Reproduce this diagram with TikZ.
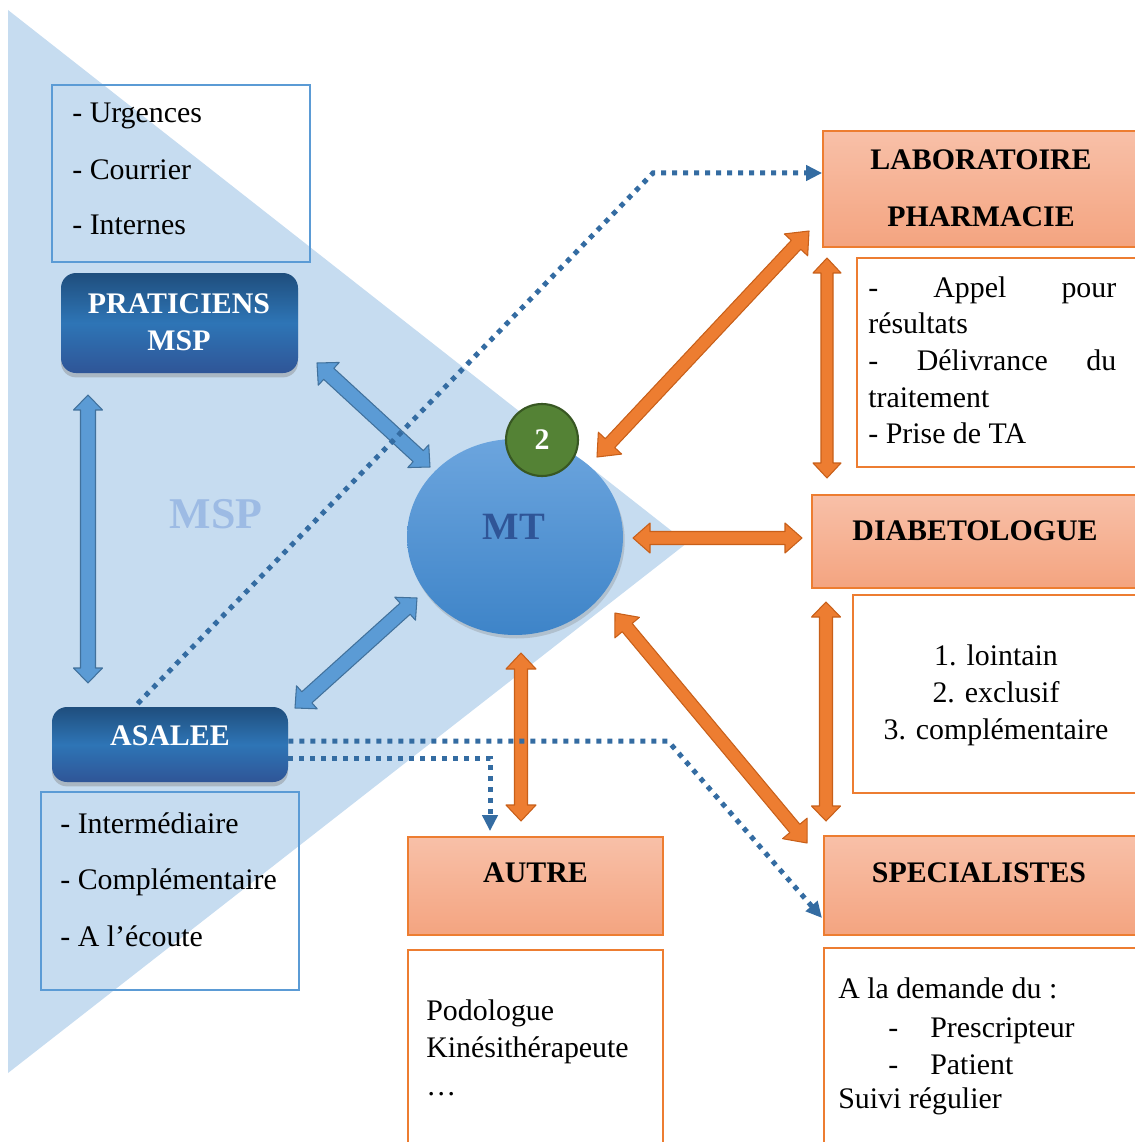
\documentclass[tikz,border=0pt]{standalone}
\usepackage{fontspec}
\setmainfont{Liberation Serif}
\usetikzlibrary{calc,fit,shapes.geometric,shadows,arrows.meta}

\definecolor{tri}{RGB}{198,220,240}
\definecolor{msptxt}{RGB}{157,187,228}
\definecolor{bborder}{RGB}{91,155,213}
\definecolor{oborder}{RGB}{237,125,49}
\definecolor{ofill}{RGB}{237,125,49}
\definecolor{oline}{RGB}{200,95,25}
\definecolor{bfill}{RGB}{91,155,213}
\definecolor{bline}{RGB}{65,113,156}
\definecolor{otop}{RGB}{248,192,168}
\definecolor{obot}{RGB}{244,164,128}
\definecolor{dtop}{RGB}{31,78,125}
\definecolor{dmid}{RGB}{46,117,182}
\definecolor{dbot}{RGB}{47,85,151}
\definecolor{mttop}{RGB}{108,165,222}
\definecolor{mtbot}{RGB}{62,132,200}
\definecolor{mttxt}{RGB}{47,85,151}
\definecolor{gfill}{RGB}{84,130,53}
\definecolor{gline}{RGB}{56,87,35}
\definecolor{dotc}{RGB}{52,108,162}

\newcommand\myfs{\fontsize{17}{20}\selectfont}

% double block arrow: style, from, to, head length, head half width, shaft half width
\newcommand\dblarr[6]{%
  \coordinate (tmpa) at ($(#2)!#4!(#3)$);
  \coordinate (tmpb) at ($(#3)!#4!(#2)$);
  \draw[#1] (#2) -- ($(tmpa)!#5!90:(#3)$) -- ($(tmpa)!#6!90:(#3)$)
    -- ($(tmpb)!#6!-90:(#2)$) -- ($(tmpb)!#5!-90:(#2)$) -- (#3)
    -- ($(tmpb)!#5!90:(#2)$) -- ($(tmpb)!#6!90:(#2)$)
    -- ($(tmpa)!#6!-90:(#3)$) -- ($(tmpa)!#5!-90:(#3)$) -- cycle;}

\tikzset{
  tbox/.style={draw=bborder, line width=1pt, inner sep=0},
  obox/.style={draw=oborder, line width=1pt, inner sep=0, top color=otop, bottom color=obot},
  wbox/.style={draw=oborder, line width=1pt, inner sep=0, fill=white},
  rbox/.style={rounded corners=0.3cm, inner sep=0, top color=dtop, bottom color=dbot, middle color=dmid,
     drop shadow={shadow xshift=0pt, shadow yshift=-2.5pt, opacity=0.4}},
  txt/.style={inner sep=0, anchor=base west, font=\myfs},
  ctr/.style={inner sep=0, anchor=base, font=\myfs},
  ttl/.style={inner sep=0, anchor=base, font=\myfs\bfseries},
  wtl/.style={ttl, text=white},
  oarr/.style={fill=ofill, draw=oline, line width=0.6pt, line join=round},
  barr/.style={fill=bfill, draw=bline, line width=0.6pt, line join=round},
  dotline/.style={draw=dotc, line width=0.1cm, dash pattern=on 0.1cm off 0.12cm,
     -{Triangle[length=0.32cm,width=0.3cm]}}
}

\begin{document}
\begin{tikzpicture}[x=0.02cm, y=-0.02cm]
\useasboundingbox (0,0) rectangle (1135,1142);
\clip (0,0) rectangle (1135,1142);

% background triangle
\fill[tri] (8,10) -- (687,543) -- (8,1073) -- cycle;
\node[font=\fontsize{25}{30}\selectfont\bfseries, text=msptxt, inner sep=0] (msp) at (216,514) {MSP};

% left column
\node[tbox, fit={(52,85)(310,262)}] (urg) {};
\node[txt] (u1) at (72,123) {- Urgences};
\node[txt] (u2) at (72,180) {- Courrier};
\node[txt] (u3) at (72,235) {- Internes};

\node[rbox, fit={(61,273)(298,373)}] (prat) {};
\node[wtl] (prat1) at (179,313) {PRATICIENS};
\node[wtl] (prat2) at (179,350) {MSP};

\node[rbox, fit={(52,707)(288,782)}] (asalee) {};
\node[wtl] (asaleet) at (170,745) {ASALEE};

\node[tbox, fit={(41,792)(299,990)}] (asbox) {};
\node[txt] (a1) at (60,833) {- Intermédiaire};
\node[txt] (a2) at (60,889) {- Complémentaire};
\node[txt] (a3) at (60,946) {- A l’écoute};

% MT
\node[ellipse, minimum width=4.32cm, minimum height=3.92cm, inner sep=0, top color=mttop, bottom color=mtbot,
  drop shadow={shadow xshift=1pt, shadow yshift=-2pt, opacity=0.3}] (mt) at (515,537) {};
\node[font=\fontsize{22}{26}\selectfont\bfseries, text=mttxt, inner sep=0] (mtt) at (514,527) {MT};
\node[circle, minimum size=1.44cm, inner sep=0, fill=gfill, draw=gline, line width=1.2pt,
  font=\myfs\bfseries, text=white] (two) at (542,440) {2};

% right column
\node[obox, fit={(823,131)(1145,247)}] (lab) {};
\node[ttl] (lab1) at (981,170) {LABORATOIRE};
\node[ttl] (lab2) at (981,227) {PHARMACIE};
\node[wbox, fit={(857,258)(1145,467)}] (labbox) {};
\node[txt] (l1) at (868,297) {\makebox[4.96cm][s]{- Appel pour}};
\node[txt] (l2) at (868,333) {résultats};
\node[txt] (l3) at (868,370) {\makebox[4.96cm][s]{- Délivrance du}};
\node[txt] (l4) at (868,407) {traitement};
\node[txt] (l5) at (868,443) {- Prise de TA};

\node[obox, fit={(812,495)(1145,588)}] (diab) {};
\node[ttl] (diabt) at (975,540) {DIABETOLOGUE};
\node[wbox, fit={(853,595)(1145,793)}] (diabbox) {};
\node[ctr] (d1) at (996,665) {1. lointain};
\node[ctr] (d2) at (996,702) {2. exclusif};
\node[ctr] (d3) at (996,739) {3. complémentaire};

\node[obox, fit={(408,837)(663,935)}] (autre) {};
\node[ttl] (autret) at (535.5,882) {AUTRE};
\node[wbox, fit={(408,950)(663,1150)}] (autrebox) {};
\node[txt] (p1) at (426,1020) {Podologue};
\node[txt] (p2) at (426,1057) {Kinésithérapeute};
\node[txt] (p3) at (426,1095) {…};

\node[obox, fit={(824,836)(1145,935)}] (spec) {};
\node[ttl] (spect) at (979,882) {SPECIALISTES};
\node[wbox, fit={(824,948)(1145,1150)}] (specbox) {};
\node[txt] (s1) at (838,998) {A la demande du :};
\node[txt] (s2a) at (888,1037) {-};
\node[txt] (s2) at (930,1037) {Prescripteur};
\node[txt] (s3a) at (888,1074) {-};
\node[txt] (s3) at (930,1074) {Patient};
\node[txt] (s4) at (838,1108) {Suivi régulier};

% arrow end points
\coordinate (pmA) at (317,363);   \coordinate (pmB) at (430,467);
\coordinate (paA) at (88,395);    \coordinate (paB) at (88,683);
\coordinate (amA) at (295,708);   \coordinate (amB) at (417,598);
\coordinate (mlA) at (597,457);   \coordinate (mlB) at (809,231);
\coordinate (ldA) at (827,258);   \coordinate (ldB) at (827,478);
\coordinate (mdA) at (633,538);   \coordinate (mdB) at (802,538);
\coordinate (dsA) at (826,602);   \coordinate (dsB) at (826,821);
\coordinate (msA) at (615,613);   \coordinate (msB) at (807,843);
\coordinate (maA) at (521,653);   \coordinate (maB) at (521,821);

% blue block arrows
\dblarr{barr}{pmA}{pmB}{0.32cm}{0.31cm}{0.15cm}
\dblarr{barr}{paA}{paB}{0.3cm}{0.29cm}{0.15cm}
\dblarr{barr}{amA}{amB}{0.32cm}{0.31cm}{0.15cm}

% orange block arrows
\dblarr{oarr}{mlA}{mlB}{0.38cm}{0.32cm}{0.13cm}
\dblarr{oarr}{ldA}{ldB}{0.3cm}{0.28cm}{0.12cm}
\dblarr{oarr}{mdA}{mdB}{0.34cm}{0.3cm}{0.13cm}
\dblarr{oarr}{dsA}{dsB}{0.3cm}{0.29cm}{0.13cm}
\dblarr{oarr}{msA}{msB}{0.38cm}{0.32cm}{0.13cm}
\dblarr{oarr}{maA}{maB}{0.32cm}{0.3cm}{0.13cm}

% dotted arrows
\coordinate (aBend) at (653,173);
\coordinate (bBend) at (668,741);
\coordinate (bEnd) at (822,918);
\coordinate (cBend) at (490,758);
\draw[dotline] ([shift={(86,-3)}]asalee.north west) -- (aBend) -- (aBend -| lab.west);
\draw[dotline] (asalee.east |- bBend) -- (bBend) -- (bEnd);
\draw[dotline, shorten >=0.1cm] (asalee.east |- cBend) -- (cBend) -- (cBend |- autre.north);
\end{tikzpicture}
\end{document}
